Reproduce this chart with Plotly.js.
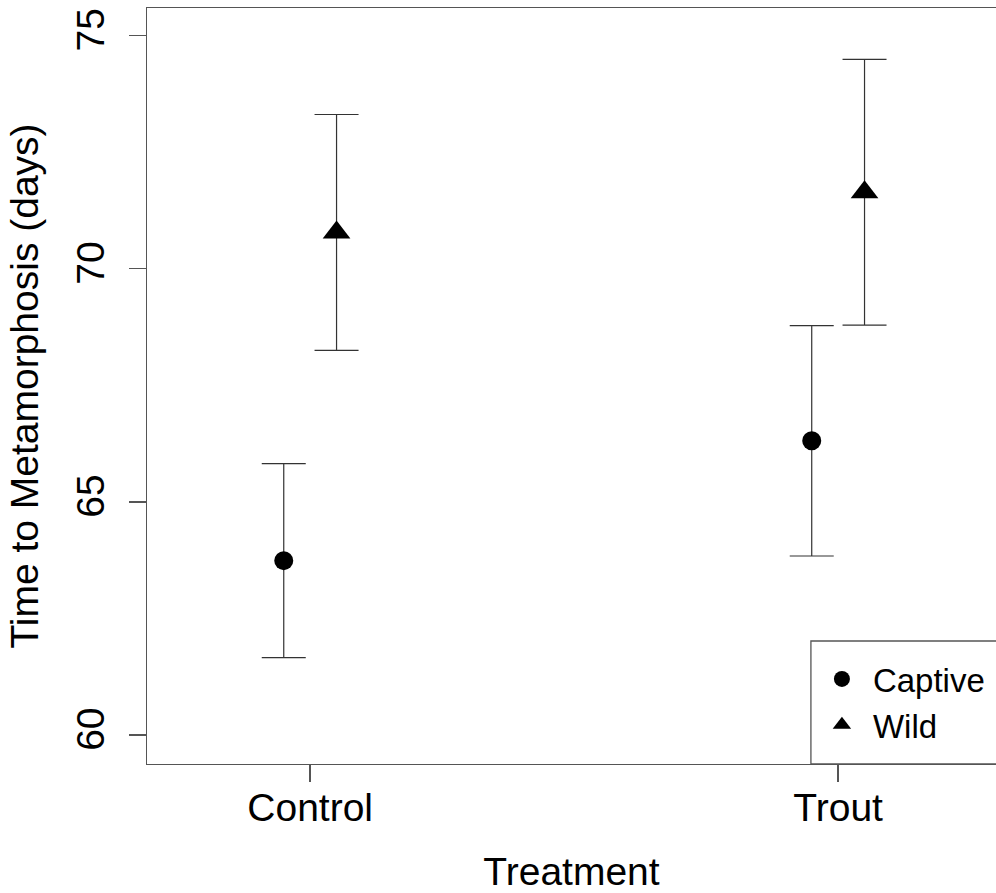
<!DOCTYPE html>
<html>
<head>
<meta charset="utf-8">
<script src="https://cdn.plot.ly/plotly-3.0.1.min.js"></script>
<style>html,body{margin:0;padding:0;background:#fff;}#chart{width:996px;height:893px;}</style>
</head>
<body>
<div id="chart"></div>
<script>
// Data
var treatments = ["Control", "Trout"];
var captiveMean = [63.74, 66.31];
var captiveErr = [2.08, 2.47];
var wildMean = [70.78, 71.64];
var wildErr = [2.53, 2.85];
var yTicks = [60, 65, 70, 75];

var dodge = 0.05;
var idx = treatments.map(function (t, i) { return i; });

var errStyle = {type: 'data', visible: true, thickness: 1.2, width: 22, color: '#333333'};

var traces = [
  {
    name: 'Captive', type: 'scatter', mode: 'markers',
    x: idx.map(function (i) { return i - dodge; }), y: captiveMean,
    error_y: Object.assign({array: captiveErr}, errStyle),
    marker: {symbol: 'circle', size: 19, color: '#000'}
  },
  {
    name: 'Wild', type: 'scatter', mode: 'markers',
    x: idx.map(function (i) { return i + dodge; }), y: wildMean,
    error_y: Object.assign({array: wildErr}, errStyle),
    marker: {symbol: 'triangle-up', size: 24, color: '#000'}
  }
];

var font = {family: '"Liberation Sans", Arial, sans-serif', color: '#000'};

var layout = {
  width: 996, height: 893,
  margin: {l: 147, r: 0, t: 8, b: 129, pad: 0},
  paper_bgcolor: '#fff', plot_bgcolor: '#fff',
  font: font,
  showlegend: true,
  xaxis: {
    range: [-0.309, 1.299],
    tickvals: idx, ticktext: treatments,
    showgrid: false, zeroline: false,
    showline: true, mirror: true, linecolor: '#555', linewidth: 1.3,
    ticks: 'outside', ticklen: 17, tickwidth: 1.3, tickcolor: '#555',
    ticklabelstandoff: -8,
    tickfont: Object.assign({size: 39}, font),
    title: {text: 'Treatment', font: Object.assign({size: 39}, font), standoff: 30}
  },
  yaxis: {
    range: [59.378, 75.594],
    tickvals: yTicks,
    showgrid: false, zeroline: false,
    showline: true, linecolor: '#555', linewidth: 1.3,
    ticks: 'outside', ticklen: 17, tickwidth: 1.3, tickcolor: '#555',
    tickangle: -90,
    ticklabelstandoff: 9,
    tickfont: Object.assign({size: 39}, font),
    title: {text: 'Time to Metamorphosis (days)', font: Object.assign({size: 39}, font), standoff: 18}
  },
  legend: {
    x: 0.782, xanchor: 'left', y: 0.1495, yanchor: 'top',
    bgcolor: 'rgba(0,0,0,0)', borderwidth: 0,
    itemwidth: 52,
    font: Object.assign({size: 33}, font)
  },
  shapes: [
    {type: 'rect', xref: 'paper', yref: 'paper', x0: 0.782, x1: 1.05, y0: 0, y1: 0.1627,
     line: {color: '#555', width: 1.3}, fillcolor: 'rgba(0,0,0,0)', layer: 'above'}
  ]
};

Plotly.newPlot('chart', traces, layout, {displayModeBar: false, staticPlot: true});
</script>
</body>
</html>
